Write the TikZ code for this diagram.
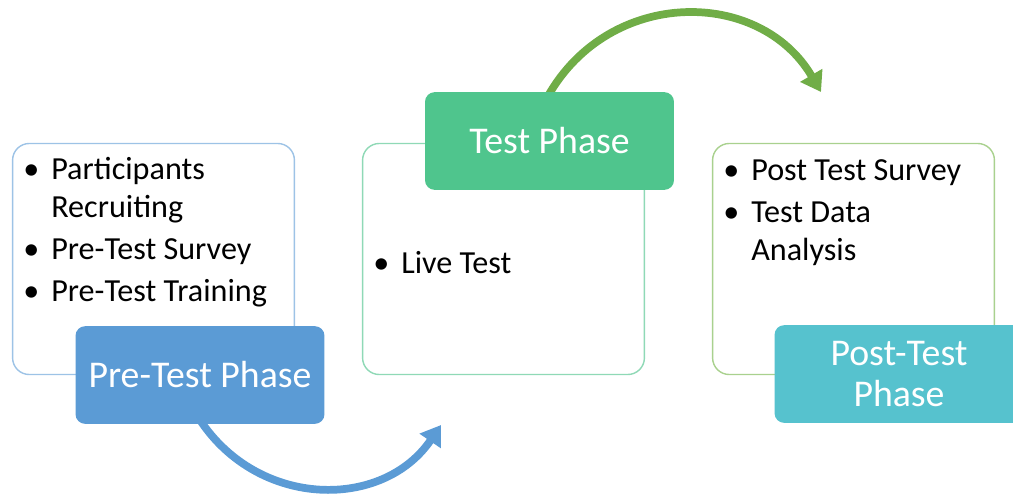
\documentclass[tikz,border=0pt]{standalone}
\usepackage{fontspec}
\setmainfont{Carlito}
\usetikzlibrary{arrows.meta}
\definecolor{preblue}{HTML}{5B9BD5}
\definecolor{preline}{HTML}{9DC3E6}
\definecolor{testgreen}{HTML}{4FC58D}
\definecolor{testline}{HTML}{8FD9B6}
\definecolor{postteal}{HTML}{56C2CE}
\definecolor{postline}{HTML}{A9D18E}
\definecolor{arrowgreen}{HTML}{70AD47}
\newcommand\bu{\makebox[15.9pt][l]{\textbullet}}
\tikzset{
  outlinebox/.style={draw, line width=0.8pt, rounded corners=9.5pt, minimum width=160.4pt, minimum height=131.5pt, inner sep=0pt, fill=white},
  phasebox/.style={rounded corners=5.5pt, minimum width=141.7pt, minimum height=55.6pt, inner sep=0pt, text=white, font=\fontsize{21.5}{23}\selectfont, align=center},
  listtext/.style={anchor=north west, inner sep=0pt, font=\fontsize{18.3}{21.5}\selectfont},
  flowarrow/.style={line width=4.4pt, -{Triangle[length=11pt,width=14pt]}}
}
\begin{document}
\begin{tikzpicture}[x=0.02cm,y=-0.02cm]
\useasboundingbox (0,0) rectangle (1013,497);
\clip (0,0) rectangle (1013,497);
% outline boxes
\node[outlinebox, draw=preline] (lbox) at (153.5,259) {};
\node[outlinebox, draw=testline] (mbox) at (503.5,259) {};
\node[outlinebox, draw=postline] (rbox) at (853.5,259) {};
% lists
\node[listtext] (llist) at (23,153) {\begin{tabular}{@{}l@{}l@{}}
\bu & Participants\\
    & Recruiting\\[2.3pt]
\bu & Pre-Test Survey\\[2.3pt]
\bu & Pre-Test Training
\end{tabular}};
\node[listtext] (mlist) at (373,247) {\begin{tabular}{@{}l@{}l@{}}
\bu & Live Test
\end{tabular}};
\node[listtext] (rlist) at (723,154) {\begin{tabular}{@{}l@{}l@{}}
\bu & Post Test Survey\\[2.3pt]
\bu & Test Data\\
    & Analysis
\end{tabular}};
% arrows (under phase boxes)
\coordinate (bend) at (441,425);
\coordinate (gend) at (821,92);
\coordinate (pstart) at (200,420);
\coordinate (tstart) at (548,96);
\draw[flowarrow, preblue] (pstart) .. controls (259,509) and (383,510) .. (bend);
\draw[flowarrow, arrowgreen] (tstart) .. controls (610,-13) and (760,-12) .. (gend);
% phase boxes
\node[phasebox, fill=preblue] (pre) at (200,375) {Pre-Test Phase};
\node[phasebox, fill=testgreen] (test) at (549.5,141) {Test Phase};
\node[phasebox, fill=postteal] (post) at (899,374) {Post-Test\\Phase};
\end{tikzpicture}
\end{document}
